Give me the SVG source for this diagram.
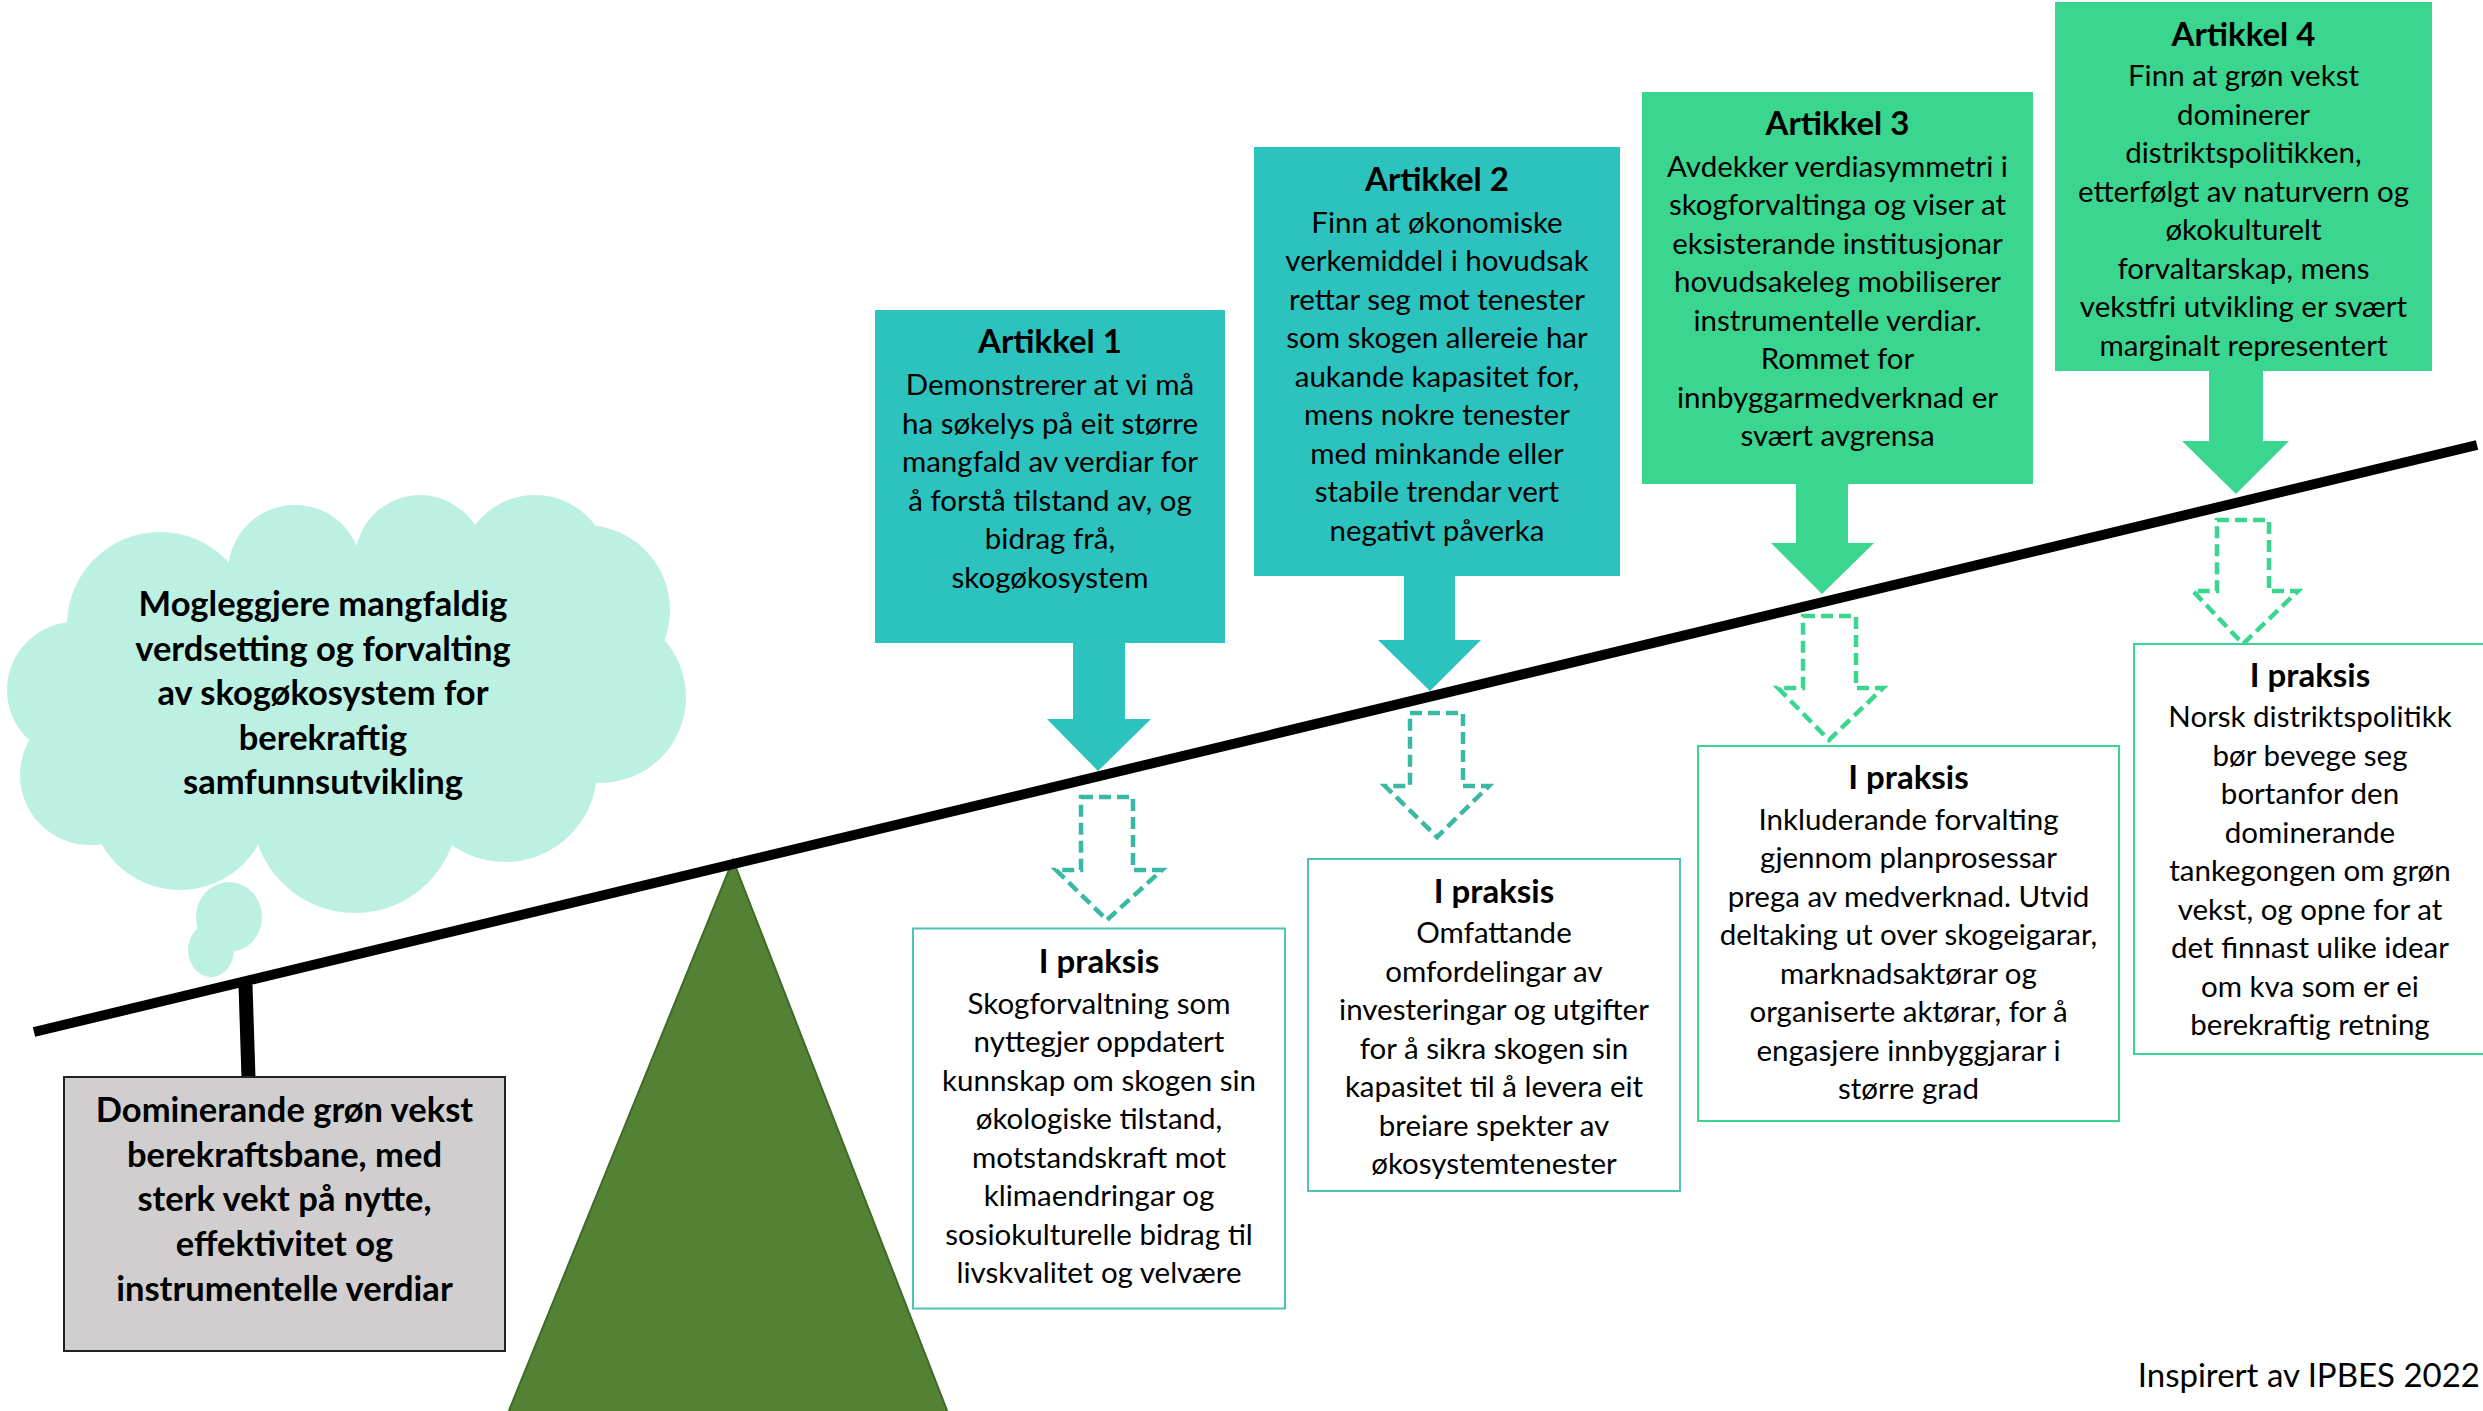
<svg xmlns="http://www.w3.org/2000/svg" width="2483" height="1411" viewBox="0 0 2483 1411">
<style>
text{font-family:Lato,"Liberation Sans",sans-serif;fill:#000;text-anchor:middle}
.b{font-size:29.5px}
.t{font-size:33px;font-weight:bold}
.big{font-size:34.5px;font-weight:bold}
.teal{fill:#2CC2BE}
.green{fill:#3AD68F}
.ipT{fill:#fff;stroke:#4CC4B1;stroke-width:2}
.ipG{fill:#fff;stroke:#3AD68F;stroke-width:2}
.dT{fill:none;stroke:#3AB9A2;stroke-width:4.5;stroke-dasharray:12 6}
.dG{fill:none;stroke:#3AD68F;stroke-width:4.5;stroke-dasharray:12 6}
.cl{fill:#BBF0E3}
</style>
<rect width="2483" height="1411" fill="#fff"/>

<g id="cloud">
<circle class="cl" cx="75" cy="690" r="68"/>
<circle class="cl" cx="90" cy="775" r="70"/>
<circle class="cl" cx="180" cy="800" r="90"/>
<circle class="cl" cx="355" cy="810" r="103"/>
<circle class="cl" cx="505" cy="770" r="92"/>
<circle class="cl" cx="600" cy="697" r="86"/>
<circle class="cl" cx="585" cy="610" r="85"/>
<circle class="cl" cx="535" cy="570" r="75"/>
<circle class="cl" cx="420" cy="560" r="65"/>
<circle class="cl" cx="295" cy="572" r="67"/>
<circle class="cl" cx="160" cy="625" r="93"/>
<ellipse class="cl" cx="350" cy="700" rx="270" ry="150"/>
<ellipse class="cl" cx="229" cy="917" rx="33" ry="35"/>
<ellipse class="cl" cx="211" cy="950" rx="23" ry="27"/>
<text class="big" x="323" y="616">Mogleggjere mangfaldig</text>
<text class="big" x="323" y="660.5">verdsetting og forvalting</text>
<text class="big" x="323" y="705">av skogøkosystem for</text>
<text class="big" x="323" y="749.5">berekraftig</text>
<text class="big" x="323" y="794">samfunnsutvikling</text>
</g>

<g id="fulcrum">
<polygon points="733,860 948,1413 508,1413" fill="#548235" stroke="#3F6A28" stroke-width="2"/>
</g>

<g id="beam">
<line x1="245.5" y1="985" x2="248.5" y2="1078" stroke="#000" stroke-width="14"/>
<line x1="34" y1="1032" x2="2477" y2="445" stroke="#000" stroke-width="10"/>
</g>

<g id="status-quo">
<rect x="64" y="1077" width="441" height="274" fill="#D0CECE" stroke="#222" stroke-width="2"/>
<text class="big" x="284.5" y="1122">Dominerande grøn vekst</text>
<text class="big" x="284.5" y="1167">berekraftsbane, med</text>
<text class="big" x="284.5" y="1211">sterk vekt på nytte,</text>
<text class="big" x="284.5" y="1256">effektivitet og</text>
<text class="big" x="284.5" y="1301">instrumentelle verdiar</text>
</g>

<g id="artikkel1">
<rect class="teal" x="875" y="310" width="350" height="333"/>
<text class="t" x="1050" y="353">Artikkel 1</text>
<text class="b" x="1050" y="395">Demonstrerer at vi må</text>
<text class="b" x="1050" y="433.5">ha søkelys på eit større</text>
<text class="b" x="1050" y="472">mangfald av verdiar for</text>
<text class="b" x="1050" y="510.5">å forstå tilstand av, og</text>
<text class="b" x="1050" y="549">bidrag frå,</text>
<text class="b" x="1050" y="587.5">skogøkosystem</text>
</g>

<g id="artikkel2">
<rect class="teal" x="1254" y="147" width="366" height="429"/>
<text class="t" x="1437" y="191">Artikkel 2</text>
<text class="b" x="1437" y="232.5">Finn at økonomiske</text>
<text class="b" x="1437" y="271">verkemiddel i hovudsak</text>
<text class="b" x="1437" y="309.5">rettar seg mot tenester</text>
<text class="b" x="1437" y="348">som skogen allereie har</text>
<text class="b" x="1437" y="386.5">aukande kapasitet for,</text>
<text class="b" x="1437" y="425">mens nokre tenester</text>
<text class="b" x="1437" y="463.5">med minkande eller</text>
<text class="b" x="1437" y="502">stabile trendar vert</text>
<text class="b" x="1437" y="540.5">negativt påverka</text>
</g>

<g id="artikkel3">
<rect class="green" x="1642" y="92" width="391" height="392"/>
<text class="t" x="1837.5" y="135">Artikkel 3</text>
<text class="b" x="1837.5" y="176.5">Avdekker verdiasymmetri i</text>
<text class="b" x="1837.5" y="215">skogforvaltinga og viser at</text>
<text class="b" x="1837.5" y="253.5">eksisterande institusjonar</text>
<text class="b" x="1837.5" y="292">hovudsakeleg mobiliserer</text>
<text class="b" x="1837.5" y="330.5">instrumentelle verdiar.</text>
<text class="b" x="1837.5" y="369">Rommet for</text>
<text class="b" x="1837.5" y="407.5">innbyggarmedverknad er</text>
<text class="b" x="1837.5" y="446">svært avgrensa</text>
</g>

<g id="artikkel4">
<rect class="green" x="2055" y="2" width="377" height="369"/>
<text class="t" x="2243.5" y="46">Artikkel 4</text>
<text class="b" x="2243.5" y="86">Finn at grøn vekst</text>
<text class="b" x="2243.5" y="124.5">dominerer</text>
<text class="b" x="2243.5" y="163">distriktspolitikken,</text>
<text class="b" x="2243.5" y="201.5">etterfølgt av naturvern og</text>
<text class="b" x="2243.5" y="240">økokulturelt</text>
<text class="b" x="2243.5" y="278.5">forvaltarskap, mens</text>
<text class="b" x="2243.5" y="317">vekstfri utvikling er svært</text>
<text class="b" x="2243.5" y="355.5">marginalt representert</text>
</g>

<g id="praksis1">
<rect class="ipT" x="913" y="928.5" width="372" height="380"/>
<text class="t" x="1099" y="972.5">I praksis</text>
<text class="b" x="1099" y="1013.5">Skogforvaltning som</text>
<text class="b" x="1099" y="1052">nyttegjer oppdatert</text>
<text class="b" x="1099" y="1090.5">kunnskap om skogen sin</text>
<text class="b" x="1099" y="1129">økologiske tilstand,</text>
<text class="b" x="1099" y="1167.5">motstandskraft mot</text>
<text class="b" x="1099" y="1206">klimaendringar og</text>
<text class="b" x="1099" y="1244.5">sosiokulturelle bidrag til</text>
<text class="b" x="1099" y="1283">livskvalitet og velvære</text>
</g>

<g id="praksis2">
<rect class="ipT" x="1308" y="859" width="372" height="332"/>
<text class="t" x="1494" y="903">I praksis</text>
<text class="b" x="1494" y="943">Omfattande</text>
<text class="b" x="1494" y="981.5">omfordelingar av</text>
<text class="b" x="1494" y="1020">investeringar og utgifter</text>
<text class="b" x="1494" y="1058.5">for å sikra skogen sin</text>
<text class="b" x="1494" y="1097">kapasitet til å levera eit</text>
<text class="b" x="1494" y="1135.5">breiare spekter av</text>
<text class="b" x="1494" y="1174">økosystemtenester</text>
</g>

<g id="praksis3">
<rect class="ipG" x="1698" y="746" width="421" height="375"/>
<text class="t" x="1908.5" y="788.5">I praksis</text>
<text class="b" x="1908.5" y="829.5">Inkluderande forvalting</text>
<text class="b" x="1908.5" y="868">gjennom planprosessar</text>
<text class="b" x="1908.5" y="906.5">prega av medverknad. Utvid</text>
<text class="b" x="1908.5" y="945">deltaking ut over skogeigarar,</text>
<text class="b" x="1908.5" y="983.5">marknadsaktørar og</text>
<text class="b" x="1908.5" y="1022">organiserte aktørar, for å</text>
<text class="b" x="1908.5" y="1060.5">engasjere innbyggjarar i</text>
<text class="b" x="1908.5" y="1099">større grad</text>
</g>

<g id="praksis4">
<rect class="ipG" x="2134" y="644" width="360" height="410"/>
<text class="t" x="2310" y="687">I praksis</text>
<text class="b" x="2310" y="727">Norsk distriktspolitikk</text>
<text class="b" x="2310" y="765.5">bør bevege seg</text>
<text class="b" x="2310" y="804">bortanfor den</text>
<text class="b" x="2310" y="842.5">dominerande</text>
<text class="b" x="2310" y="881">tankegongen om grøn</text>
<text class="b" x="2310" y="919.5">vekst, og opne for at</text>
<text class="b" x="2310" y="958">det finnast ulike idear</text>
<text class="b" x="2310" y="996.5">om kva som er ei</text>
<text class="b" x="2310" y="1035">berekraftig retning</text>
</g>

<g id="connectors">
<path class="teal" d="M1073,642 H1125 V719 H1151 L1098,771 L1047,719 H1073 Z"/>
<path class="teal" d="M1404,575 H1455 V640 H1481 L1430,691 L1378,640 H1404 Z"/>
<path class="green" d="M1796,483 H1848 V543 H1874 L1822,594 L1771,543 H1796 Z"/>
<path class="green" d="M2209,370 H2263 V441 H2289 L2236,494 L2182,441 H2209 Z"/>
<path class="dT" d="M1081,797 H1133 V870 H1162 L1107,920 L1056,870 H1081 Z"/>
<path class="dT" d="M1410,713 H1463 V786 H1489 L1437,837 L1385,786 H1410 Z"/>
<path class="dG" d="M1803,616 H1856 V688 H1883 L1829,740 L1778,688 H1803 Z"/>
<path class="dG" d="M2217,520 H2269 V591 H2298 L2243,644 L2193,591 H2217 Z"/>
</g>

<text x="2480" y="1387" style="font-size:33px;text-anchor:end">Inspirert av IPBES 2022</text>
</svg>
